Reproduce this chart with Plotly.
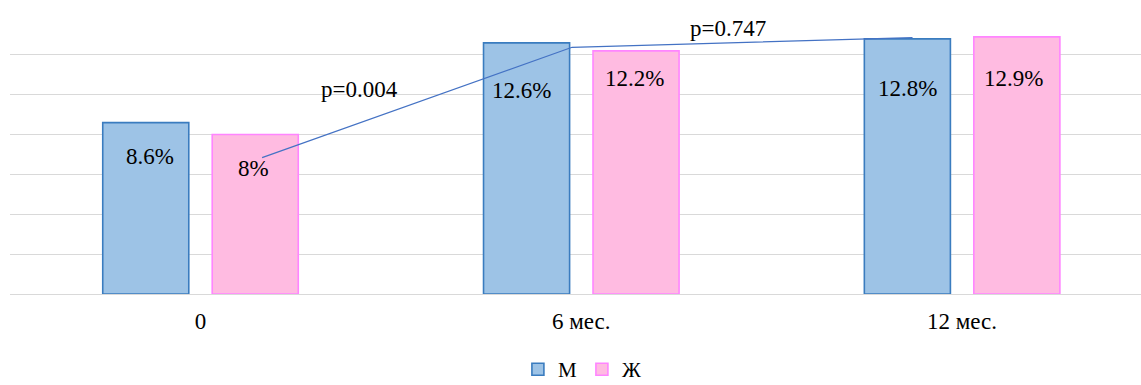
import plotly.graph_objects as go

# Time points and shares by sex
periods = ["0", "6 мес.", "12 мес."]
male = [8.6, 12.6, 12.8]
female = [8.0, 12.2, 12.9]
series_names = ["М", "Ж"]

# Trend connector between time points and p-values of the comparison
trend_x = [0.162, 0.976, 1.870]
trend_y = [6.84, 12.38, 12.86]
p_labels = ["p=0.004", "p=0.747"]

FONT = "Liberation Serif"
FS = 23
M_FILL, M_LINE = "#9DC3E6", "#3A7CBF"
F_FILL, F_LINE = "#FFBBE1", "#FF85FF"

pos = list(range(len(periods)))
BAR_W = 0.226
M_OFF, F_OFF = -0.2565, 0.031

fig = go.Figure()
fig.add_trace(go.Bar(
    x=pos, y=male, name=series_names[0], width=BAR_W, offset=M_OFF,
    marker=dict(color=M_FILL, line=dict(color=M_LINE, width=1.6)),
))
fig.add_trace(go.Bar(
    x=pos, y=female, name=series_names[1], width=BAR_W, offset=F_OFF,
    marker=dict(color=F_FILL, line=dict(color=F_LINE, width=1.6)),
))
fig.add_trace(go.Scatter(
    x=trend_x, y=trend_y, mode="lines", showlegend=False, hoverinfo="skip",
    line=dict(color="#4472C4", width=1.2),
))

# Value labels placed inside the bars (pixel drop / shift per label)
m_drop, m_shift = [34, 48, 50], [4, -5, 0]
f_drop, f_shift = [34, 28, 42], [-2, -2, -3]

def fmt(v):
    return f"{v:g}%"

anns = []
for i, v in enumerate(male):
    anns.append(dict(x=i + M_OFF + BAR_W / 2, y=v, text=fmt(v), showarrow=False,
                     yshift=-m_drop[i], xshift=m_shift[i],
                     font=dict(family=FONT, size=FS, color="#000")))
for i, v in enumerate(female):
    anns.append(dict(x=i + F_OFF + BAR_W / 2, y=v, text=fmt(v), showarrow=False,
                     yshift=-f_drop[i], xshift=f_shift[i],
                     font=dict(family=FONT, size=FS, color="#000")))
anns.append(dict(x=0.418, y=10.24, text=p_labels[0], showarrow=False,
                 font=dict(family=FONT, size=FS, color="#000")))
anns.append(dict(x=1.385, y=13.3, text=p_labels[1], showarrow=False,
                 font=dict(family=FONT, size=FS, color="#000")))

fig.update_layout(
    width=1141, height=385,
    margin=dict(l=10, r=0, t=15, b=91),
    paper_bgcolor="white", plot_bgcolor="white",
    showlegend=True,
    legend=dict(orientation="h", xref="container", yref="container",
                x=0.51, xanchor="center", y=0.04, yanchor="middle",
                font=dict(family=FONT, size=21, color="#000"),
                itemwidth=30, tracegroupgap=0),
    annotations=anns,
    xaxis=dict(range=[-0.5, 2.47], tickvals=pos, ticktext=periods,
               showgrid=False, zeroline=False, showline=False, ticks="",
               ticklabelstandoff=11,
               tickfont=dict(family=FONT, size=FS, color="#000")),
    yaxis=dict(range=[0, 14], dtick=2, showticklabels=False, ticks="",
               showgrid=True, gridcolor="#D9D9D9", gridwidth=1.3,
               zeroline=True, zerolinecolor="#D9D9D9", zerolinewidth=1.3,
               showline=False),
)

fig.write_html("out.html")
